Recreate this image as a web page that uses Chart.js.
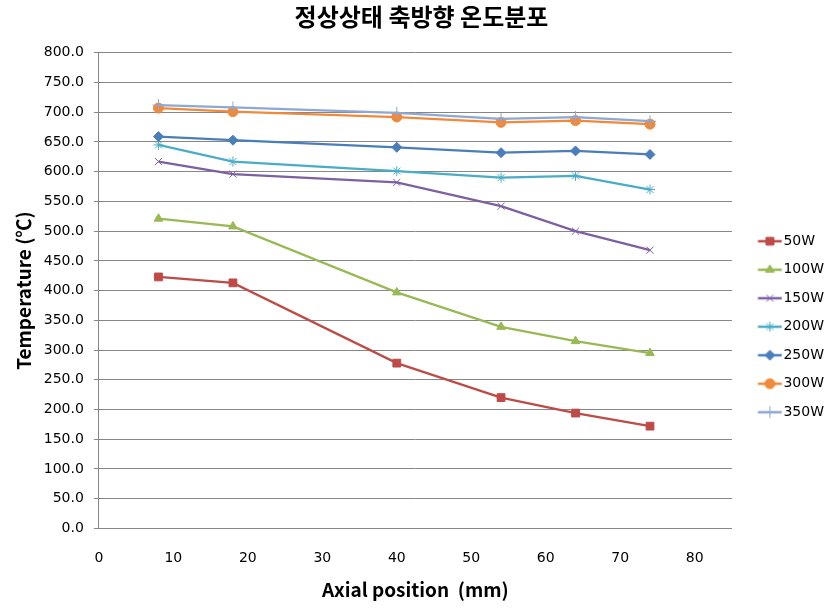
<!DOCTYPE html>
<html>
<head>
<meta charset="utf-8">
<script src="https://cdn.jsdelivr.net/npm/chart.js@4.4.0/dist/chart.umd.min.js"></script>
<style>
  html, body { margin: 0; padding: 0; background: #fff; }
  #wrap { width: 835px; height: 608px; }
</style>
</head>
<body>
<div id="wrap"><canvas id="myChart" width="835" height="608"></canvas></div>
<script>
  // posição axial (mm)
  const xPos = [8, 18, 40, 54, 64, 74];

  // temperaturas (℃) por potência
  const w50 = [423, 413, 278, 220, 194, 172];
  const w100 = [521, 508, 397, 339, 315, 295];
  const w150 = [617, 596, 582, 542, 500, 468];
  const w200 = [645, 617, 601, 590, 593, 570];
  const w250 = [659, 653, 641, 632, 635, 629];
  const w300 = [707, 701, 692, 683, 686, 680];
  const w350 = [712, 708, 699, 689, 692, 685];

  const seriesNames = ['50W', '100W', '150W', '200W', '250W', '300W', '350W'];
  const seriesValues = [w50, w100, w150, w200, w250, w300, w350];
  const colors = ['#BE4B48', '#98B954', '#7D60A0', '#4AACC5', '#4A7EBB', '#F08A3A', '#8EA7D3'];
  const markers = ['rect', 'triangle', 'crossRot', 'star', 'rectRot', 'circle', 'cross'];
  const radii = [5.5, 5, 5, 5, 5, 5, 6];

  const tickFont = { family: 'DejaVu Sans', size: 14 };
  const titleFont = { family: 'Noto Sans CJK KR', size: 19, weight: 'bold' };

  // icone da legenda: linha + marcador
  function legendIcon(i) {
    const c = document.createElement('canvas');
    c.width = 42;
    c.height = 14;
    const g = c.getContext('2d');
    g.strokeStyle = colors[i];
    g.fillStyle = colors[i];
    g.lineWidth = 2.5;
    g.beginPath();
    g.moveTo(17.5, 7);
    g.lineTo(41.5, 7);
    g.stroke();
    g.lineWidth = 1;
    Chart.helpers.drawPoint(g, { pointStyle: markers[i], radius: radii[i], rotation: 0, borderWidth: 1 }, 29.5, 7);
    return c;
  }

  const datasets = seriesValues.map((vals, i) => ({
    label: seriesNames[i],
    data: xPos.map((x, k) => ({ x: x, y: vals[k] })),
    borderColor: colors[i],
    backgroundColor: colors[i],
    borderWidth: 2.25,
    pointStyle: markers[i],
    pointRadius: radii[i],
    pointBackgroundColor: colors[i],
    pointBorderColor: colors[i],
    pointBorderWidth: 1,
    tension: 0,
    order: seriesNames.length - i
  }));

  const icons = seriesNames.map((n, i) => legendIcon(i));

  const config = {
    type: 'line',
    data: { datasets: datasets },
    options: {
      responsive: false,
      animation: false,
      layout: { padding: { left: 9, right: 1, top: 0, bottom: 3 } },
      plugins: {
        title: {
          display: true,
          text: '정상상태 축방향 온도분포',
          color: '#000',
          font: { family: 'Noto Sans CJK KR', size: 24, weight: 'bold' },
          padding: { top: 2, bottom: 22 }
        },
        legend: {
          position: 'right',
          align: 'center',
          title: { display: true, text: '', padding: { top: 34, bottom: 0 }, font: { size: 12 } },
          labels: {
            usePointStyle: true,
            pointStyleWidth: 30,
            padding: 14.5,
            color: '#000',
            font: tickFont,
            generateLabels: (chart) => chart.data.datasets.map((ds, i) => ({
              text: ds.label,
              pointStyle: icons[i],
              fillStyle: ds.borderColor,
              strokeStyle: ds.borderColor,
              lineWidth: 0,
              hidden: false,
              datasetIndex: i,
              fontColor: '#000'
            }))
          }
        },
        tooltip: { enabled: false }
      },
      scales: {
        x: {
          type: 'linear',
          min: 0,
          max: 85,
          afterBuildTicks: (scale) => {
            scale.ticks = scale.ticks.filter(t => t.value % 10 === 0);
          },
          ticks: { stepSize: 10, color: '#000', font: tickFont, padding: 22, maxRotation: 0 },
          grid: { display: false, drawTicks: false },
          border: { display: true, color: '#868686', width: 1 },
          title: {
            display: true,
            text: 'Axial position  (mm)',
            color: '#000',
            font: titleFont,
            padding: { top: -11, bottom: 4 }
          }
        },
        y: {
          min: 0,
          max: 800,
          ticks: {
            stepSize: 50,
            color: '#000',
            font: tickFont,
            padding: 10,
            callback: (v) => v.toFixed(1)
          },
          grid: { color: '#868686', lineWidth: 1, tickLength: 5 },
          border: { display: true, color: '#868686', width: 1 },
          title: {
            display: true,
            text: 'Temperature (℃)',
            color: '#000',
            font: titleFont,
            padding: { top: 3, bottom: -1 }
          }
        }
      }
    }
  };

  new Chart(document.getElementById('myChart').getContext('2d'), config);
</script>
</body>
</html>
